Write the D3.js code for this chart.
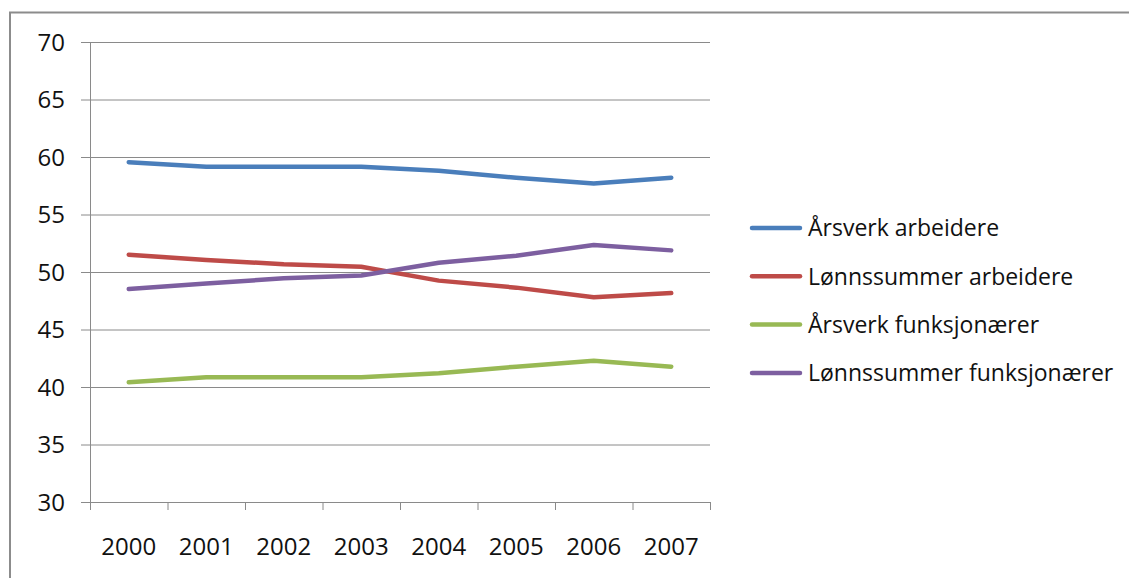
<!DOCTYPE html>
<html><head><meta charset="utf-8">
<script src="https://cdn.jsdelivr.net/npm/d3@7"></script>
<style>body{margin:0;background:#fff;} text{font-family:"Open Sans","Liberation Sans",sans-serif;fill:#111;}</style>
</head><body><svg id="c" width="1129" height="578"></svg>
<script>
const years = ["2000","2001","2002","2003","2004","2005","2006","2007"];
const yTicks = [30,35,40,45,50,55,60,65,70];
const seriesNames = ["Årsverk arbeidere","Lønnssummer arbeidere","Årsverk funksjonærer","Lønnssummer funksjonærer"];
const seriesColors = ["#4A7EBB","#BE4B48","#98B954","#7D5FA0"];
const arsverkArbeidere = [59.55,59.16,59.15,59.16,58.8,58.2,57.7,58.2];
const lonnArbeidere = [51.5,51.05,50.67,50.46,49.25,48.64,47.8,48.17];
const arsverkFunk = [40.41,40.85,40.85,40.85,41.2,41.77,42.29,41.77];
const lonnFunk = [48.52,49.0,49.45,49.7,50.8,51.42,52.35,51.88];
const allSeries = [arsverkArbeidere,lonnArbeidere,arsverkFunk,lonnFunk];

const svg = d3.select("#c");
// frame
svg.append("path").attr("d","M10,578 V12.5 H1129").attr("fill","none").attr("stroke","#8c8c8c").attr("stroke-width",2);

const x = d3.scaleBand().domain(years).range([90,710]);
const y = d3.scaleLinear().domain([30,70]).range([502,42]);

// gridlines
svg.append("g").selectAll("line").data(yTicks).join("line")
  .attr("x1",81).attr("x2",710).attr("y1",d=>y(d)+0.5).attr("y2",d=>y(d)+0.5)
  .attr("stroke","#8a8a8a").attr("stroke-width",1);
// y axis line
svg.append("line").attr("x1",90.5).attr("x2",90.5).attr("y1",42).attr("y2",510).attr("stroke","#8a8a8a");
// y labels
svg.append("g").selectAll("text").data(yTicks).join("text")
  .attr("x",65).attr("y",d=>y(d)).attr("dy","0.36em").attr("text-anchor","end")
  .attr("font-size",24).text(d=>d);
// x ticks
const bounds = years.map(d=>x(d)).concat([x.range()[1]]);
svg.append("g").selectAll("line").data(bounds).join("line")
  .attr("x1",d=>d+0.5).attr("x2",d=>d+0.5).attr("y1",502).attr("y2",510).attr("stroke","#8a8a8a");
// x labels
svg.append("g").selectAll("text").data(years).join("text")
  .attr("x",d=>x(d)+x.bandwidth()/2).attr("y",555).attr("text-anchor","middle")
  .attr("font-size",24).text(d=>d);

const line = d3.line().x((d,i)=>x(years[i])+x.bandwidth()/2).y(d=>y(d));
allSeries.forEach((s,i)=>{
  svg.append("path").datum(s).attr("d",line).attr("fill","none")
    .attr("stroke",seriesColors[i]).attr("stroke-width",4.5).attr("stroke-linecap","round").attr("stroke-linejoin","round");
});

// legend
const lg = svg.append("g");
seriesNames.forEach((n,i)=>{
  const ly = 228 + i*48.3;
  lg.append("line").attr("x1",752).attr("x2",800).attr("y1",ly).attr("y2",ly)
    .attr("stroke",seriesColors[i]).attr("stroke-width",4.5).attr("stroke-linecap","round");
  lg.append("text").attr("x",808).attr("y",ly).attr("dy","0.36em").attr("font-size",23).text(n);
});
</script></body></html>
